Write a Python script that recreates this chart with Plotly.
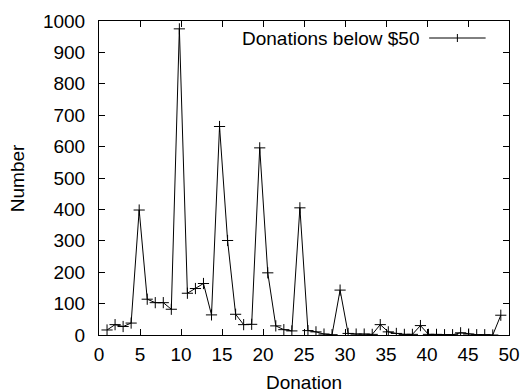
import plotly.graph_objects as go

# Donation positions and counts
donation = [0.98, 1.96, 2.94, 3.92, 4.90, 5.88, 6.86, 7.84, 8.82, 9.80,
            10.78, 11.76, 12.74, 13.72, 14.70, 15.68, 16.66, 17.64, 18.62, 19.60,
            20.58, 21.56, 22.54, 23.52, 24.50, 25.48, 26.46, 27.44, 28.42, 29.40,
            30.38, 31.36, 32.34, 33.32, 34.30, 35.28, 36.26, 37.24, 38.22, 39.20,
            40.18, 41.16, 42.14, 43.12, 44.10, 45.08, 46.06, 47.04, 48.02, 49.00]
number = [16, 33, 27, 38, 398, 114, 103, 103, 82, 975,
          133, 148, 164, 64, 664, 301, 66, 33, 34, 596,
          198, 29, 17, 13, 405, 14, 10, 3, 1, 143,
          5, 3, 3, 2, 33, 10, 5, 2, 2, 30,
          2, 2, 1, 1, 7, 3, 1, 1, 0, 63]

x_ticks = [0, 5, 10, 15, 20, 25, 30, 35, 40, 45, 50]
y_ticks = [0, 100, 200, 300, 400, 500, 600, 700, 800, 900, 1000]
series_name = "Donations below $50"

FONT = "Liberation Sans, Arial, Helvetica, sans-serif"
FS = 19

fig = go.Figure()
fig.add_trace(go.Scatter(
    x=donation, y=number, mode="lines+markers", name=series_name,
    line=dict(color="black", width=1),
    marker=dict(symbol="cross-thin", size=8, color="black",
                line=dict(color="black", width=1)),
    showlegend=False,
))

axis_common = dict(
    showline=True, linecolor="black", linewidth=1, mirror="ticks",
    ticks="inside", ticklen=6, tickcolor="black", tickwidth=1,
    showgrid=False, zeroline=False,
    tickfont=dict(family=FONT, size=FS, color="black"),
)
fig.update_xaxes(range=[0, 50], tickvals=x_ticks, ticktext=[str(v) for v in x_ticks],
                 ticklabelstandoff=2, **axis_common)
fig.update_yaxes(range=[0, 1000], tickvals=y_ticks, ticktext=[str(v) for v in y_ticks],
                 ticklabelstandoff=9, **axis_common)

# plot area in pixels: x 99..520, y 21..335
L, R, T, B = 99, 520, 21, 335
W, H = R - L, B - T
def px(x): return (x - L) / W
def py(y): return (B - y) / H

annotations = [
    dict(text="Number", x=px(15), y=py(178), xref="paper", yref="paper",
         textangle=-90, showarrow=False, xanchor="center", yanchor="middle",
         font=dict(family=FONT, size=FS, color="black")),
    dict(text="Donation", x=px(309), y=py(382), xref="paper", yref="paper",
         showarrow=False, xanchor="center", yanchor="middle",
         font=dict(family=FONT, size=FS, color="black")),
    dict(text=series_name, x=px(430), y=py(38), xref="paper", yref="paper",
         showarrow=False, xanchor="right", yanchor="middle",
         font=dict(family=FONT, size=FS, color="black")),
]
shapes = [
    dict(type="line", xref="paper", yref="paper", x0=px(438), x1=px(496),
         y0=py(38), y1=py(38), line=dict(color="black", width=1)),
    dict(type="line", xref="paper", yref="paper", x0=px(467), x1=px(467),
         y0=py(34), y1=py(42), line=dict(color="black", width=1)),
]

fig.update_layout(
    width=531, height=392,
    margin=dict(l=L, r=531 - R, t=T, b=392 - B, pad=0),
    paper_bgcolor="white", plot_bgcolor="white",
    annotations=annotations, shapes=shapes,
    font=dict(family=FONT, size=FS, color="black"),
)

fig.write_html("out.html")
